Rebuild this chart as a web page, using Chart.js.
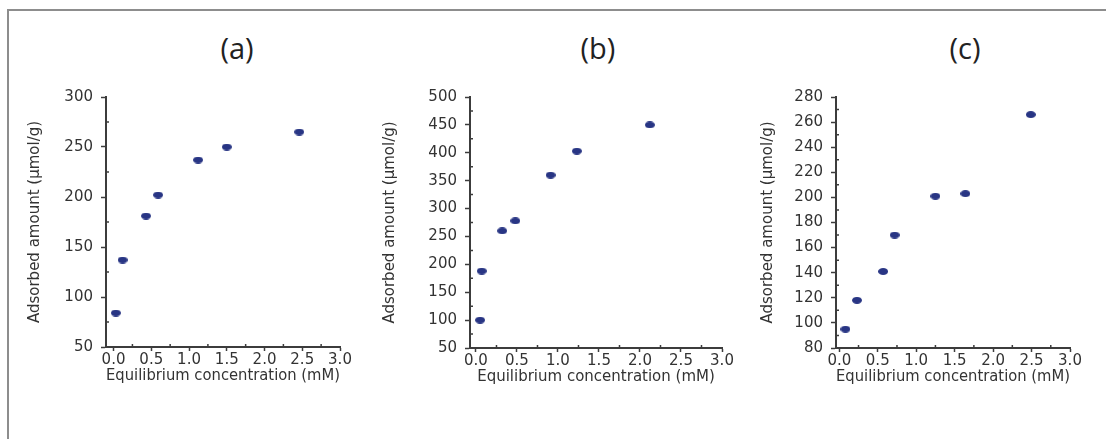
<!DOCTYPE html>
<html>
<head>
<meta charset="utf-8">
<script src="https://cdn.jsdelivr.net/npm/chart.js@4.4.0/dist/chart.umd.min.js"></script>
<style>
  body { margin: 0; width: 1106px; height: 439px; background: #fff; position: relative; overflow: hidden; }
  .frame { position: absolute; left: 7px; top: 9px; width: 1110px; height: 440px; border-top: 2px solid #8d8d8d; border-left: 2px solid #8d8d8d; }
  .panel-title { position: absolute; top: 28px; width: 80px; margin-left: -40px; text-align: center;
                 font-family: 'Open Sans', sans-serif; font-size: 29px; line-height: 40px; color: #222; }
  canvas { position: absolute; }
</style>
</head>
<body>
<div class="frame"></div>
<div class="panel-title" style="left:237px">(a)</div>
<div class="panel-title" style="left:598px">(b)</div>
<div class="panel-title" style="left:965px">(c)</div>
<canvas id="chartA"></canvas>
<canvas id="chartB"></canvas>
<canvas id="chartC"></canvas>
<script>
// shared x axis ticks (mM)
const xTicks = [0, 0.5, 1, 1.5, 2, 2.5, 3];

// (a)
const concA = [0.03, 0.12, 0.43, 0.59, 1.12, 1.50, 2.46];
const amountA = [84, 137, 181, 202, 237, 250, 265];
const yTicksA = [50, 100, 150, 200, 250, 300];

// (b)
const concB = [0.05, 0.07, 0.32, 0.48, 0.91, 1.23, 2.12];
const amountB = [100, 188, 260, 278, 360, 403, 450];
const yTicksB = [50, 100, 150, 200, 250, 300, 350, 400, 450, 500];

// (c)
const concC = [0.08, 0.23, 0.57, 0.72, 1.25, 1.64, 2.49];
const amountC = [95, 118, 141, 170, 201, 203, 266];
const yTicksC = [80, 100, 120, 140, 160, 180, 200, 220, 240, 260, 280];

const axisColor = '#3c3c3c';
const textColor = '#333';

// flat ellipse marker like the scanned dots
const dot = document.createElement('canvas');
dot.width = 10; dot.height = 7;
(function() {
    const c = dot.getContext('2d');
    c.fillStyle = '#283584';
    c.beginPath();
    c.ellipse(5, 3.5, 5, 3.5, 0, 0, Math.PI * 2);
    c.fill();
})();

// small inward ticks halfway between the labelled ones
const minorTicks = {
    id: 'minorTicks',
    afterDraw(chart) {
        const ctx = chart.ctx;
        const area = chart.chartArea;
        const xs = chart.scales.x, ys = chart.scales.y;
        ctx.save();
        ctx.strokeStyle = axisColor;
        ctx.lineWidth = 1.5;
        ctx.beginPath();
        for (let i = 1; i < ys.ticks.length; i++) {
            const py = ys.getPixelForValue((ys.ticks[i].value + ys.ticks[i - 1].value) / 2);
            ctx.moveTo(area.left, py);
            ctx.lineTo(area.left + 3, py);
        }
        for (let i = 1; i < xs.ticks.length; i++) {
            const px = xs.getPixelForValue((xs.ticks[i].value + xs.ticks[i - 1].value) / 2);
            ctx.moveTo(px, area.bottom);
            ctx.lineTo(px, area.bottom - 3);
        }
        ctx.stroke();
        ctx.restore();
    }
};

function makeChart(id, p) {
    const left = p.axisLeft - p.yWidth;
    const top = p.top - 16;
    const canvas = document.getElementById(id);
    canvas.width = p.right + 24 - left;
    canvas.height = p.bottom + 42 - top;
    canvas.style.left = left + 'px';
    canvas.style.top = top + 'px';

    return new Chart(canvas, {
        type: 'scatter',
        data: {
            datasets: [{
                data: p.xs.map((x, i) => ({ x: x, y: p.ys[i] })),
                pointStyle: dot,
                pointRadius: 5,
                backgroundColor: '#283584'
            }]
        },
        options: {
            responsive: false,
            animation: false,
            layout: { padding: { top: 16, right: 24, left: 0, bottom: 0 } },
            plugins: { legend: { display: false }, tooltip: { enabled: false } },
            scales: {
                x: {
                    type: 'linear',
                    min: p.xMin,
                    max: 3,
                    afterBuildTicks: s => { s.ticks = xTicks.map(v => ({ value: v })); },
                    afterFit: s => { s.height = 42; },
                    grid: { drawOnChartArea: false, tickLength: 4, tickColor: axisColor, tickWidth: 1.5 },
                    border: { color: axisColor, width: 2 },
                    ticks: {
                        padding: 0, color: textColor, autoSkip: false, maxRotation: 0,
                        font: { family: 'DejaVu Sans', size: 15 },
                        callback: v => Number(v).toFixed(1)
                    },
                    title: {
                        display: true, text: 'Equilibrium concentration (mM)', color: textColor,
                        font: { family: 'DejaVu Sans', size: 15 }, padding: { top: 0, bottom: 4 }
                    }
                },
                y: {
                    min: p.yTicks[0],
                    max: p.yTicks[p.yTicks.length - 1],
                    afterBuildTicks: s => { s.ticks = p.yTicks.map(v => ({ value: v })); },
                    afterFit: s => { s.width = p.yWidth; },
                    grid: { drawOnChartArea: false, tickLength: 5, tickColor: axisColor, tickWidth: 1.5 },
                    border: { color: axisColor, width: 2 },
                    ticks: { padding: 8, color: textColor, font: { family: 'DejaVu Sans', size: 15 } },
                    title: {
                        display: true, text: 'Adsorbed amount (µmol/g)', color: textColor,
                        font: { family: 'DejaVu Sans', size: 15 }, padding: { top: 6, bottom: 0 }
                    }
                }
            }
        },
        plugins: [minorTicks]
    });
}

makeChart('chartA', { xs: concA, ys: amountA, yTicks: yTicksA, xMin: -0.1,
    axisLeft: 106, yWidth: 86, right: 340, top: 96, bottom: 347 });
makeChart('chartB', { xs: concB, ys: amountB, yTicks: yTicksB, xMin: -0.073,
    axisLeft: 470, yWidth: 95, right: 722, top: 96, bottom: 348 });
makeChart('chartC', { xs: concC, ys: amountC, yTicks: yTicksC, xMin: -0.043,
    axisLeft: 836, yWidth: 83, right: 1070, top: 96, bottom: 348 });
</script>
</body>
</html>
